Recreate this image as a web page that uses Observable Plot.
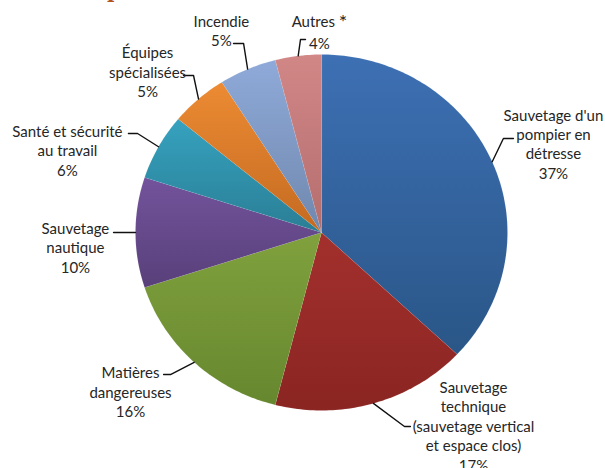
<!DOCTYPE html>
<html><head><meta charset="utf-8">
<script src="https://cdn.jsdelivr.net/npm/d3@7"></script>
<script src="https://cdn.jsdelivr.net/npm/@observablehq/plot@0.6"></script>
<style>
body{margin:0;background:#fff;}
#wrap{position:relative;width:605px;height:468px;overflow:hidden;background:#fff;}
#ttl{position:absolute;left:107px;top:-21px;font-family:"DejaVu Serif",serif;font-weight:bold;font-size:20px;color:#b4531c;line-height:24px;}
#chart{position:absolute;left:0;top:0;}
</style>
</head><body>
<div id="wrap"><div id="chart"></div><div id="ttl">p</div></div>
<script>
// ---- data ----
const categories = ["Sauvetage d'un pompier en détresse","Sauvetage technique (sauvetage vertical et espace clos)","Matières dangereuses","Sauvetage nautique","Santé et sécurité au travail","Équipes spécialisées","Incendie","Autres"];
const labelLines = [["Sauvetage d'un","pompier en","détresse"],["Sauvetage","technique","(sauvetage vertical","et espace clos)"],["Matières","dangereuses"],["Sauvetage","nautique"],["Santé et sécurité","au travail"],["Équipes","spécialisées"],["Incendie"],["Autres *"]];
const values = [37,17,16,10,6,5,5,4];
const pctLabels = ["37%","17%","16%","10%","6%","5%","5%","4%"];
// ---- styles ----
const colorTop = ["#3d70b4","#a3302d","#80a13d","#73539c","#36a2bf","#ec8b33","#8faad9","#d28787"];
const colorBottom = ["#2a5687","#8a2522","#67872f","#58407a","#2a7e95","#c46a21","#7088ae","#b46d6d"];
// ---- layout (pie units: radius = 1) ----
const labelCenter = [[1.247,0.500],[0.817,-1.084],[-1.027,-0.893],[-1.323,-0.081],[-1.366,0.463],[-0.935,0.904],[-0.538,1.135],[-0.011,1.135]];
const leaderAttach = [[1.032,0.528],[0.478,-1.090],[-0.849,-0.798],[-1.118,0],[-1.038,0.556],[-0.742,0.882],[-0.473,1.062],[-0.086,1.084]];
const leaderElbow = [[0.978,0.528],[0.446,-1.090],[-0.812,-0.798],[-1.070,0],[-0.989,0.556],[-0.688,0.882],[-0.419,1.062],[-0.113,1.084]];

const total = d3.sum(values);
let acc = 0;
const slices = values.map((v,i)=>{const a0=acc/total*2*Math.PI; acc+=v; const a1=acc/total*2*Math.PI; return {i,a0,a1,mid:(a0+a1)/2};});
const slicePts = slices.map(s=>{
  const pts=[{x:0,y:0}];
  const n=Math.max(2,Math.ceil((s.a1-s.a0)/(Math.PI/180)));
  for(let k=0;k<=n;k++){const a=s.a0+(s.a1-s.a0)*k/n; pts.push({x:Math.sin(a),y:Math.cos(a)});}
  return pts;
});
const leaders = slices.flatMap(s=>[
  {i:s.i,x:leaderAttach[s.i][0],y:leaderAttach[s.i][1]},
  {i:s.i,x:leaderElbow[s.i][0],y:leaderElbow[s.i][1]},
  {i:s.i,x:Math.sin(s.mid),y:Math.cos(s.mid)}
]);
const labels = slices.map(s=>({x:labelCenter[s.i][0],y:labelCenter[s.i][1],text:[...labelLines[s.i],pctLabels[s.i]].join("\n")}));

const chart = Plot.plot({
  width:605,height:468,
  x:{domain:[-1,1],range:[135,507],axis:null},
  y:{domain:[-1,1],range:[410,54],axis:null},
  style:{fontFamily:"Lato, sans-serif",fontSize:"15px",background:"#fff",overflow:"visible"},
  marks:[
    ...slicePts.map((pts,i)=>Plot.line(pts,{x:"x",y:"y",curve:"linear-closed",fill:`url(#g${i})`,stroke:"#ffffff",strokeOpacity:0.15,strokeWidth:0.5})),
    Plot.line(leaders,{x:"x",y:"y",z:"i",stroke:"#111",strokeWidth:1.4}),
    Plot.text(labels,{x:"x",y:"y",text:"text",lineHeight:1.3,fontSize:15,fill:"#262626",textAnchor:"middle"})
  ]
});
const defs = d3.select(chart).insert("defs",":first-child");
colorTop.forEach((c,i)=>{
  const g=defs.append("linearGradient").attr("id",`g${i}`).attr("x1",0).attr("y1",0).attr("x2",0).attr("y2",1);
  g.append("stop").attr("offset","0%").attr("stop-color",c);
  g.append("stop").attr("offset","100%").attr("stop-color",colorBottom[i]);
});
// enlarge the asterisk after "Autres"
d3.select(chart).selectAll("tspan").each(function(){
  const t=d3.select(this);
  if(t.text()==="Autres *"){
    t.text("Autres ");
    t.append("tspan").attr("font-size",20).attr("dy","0.12em").text("*");
  }
});
document.getElementById("chart").appendChild(chart);
</script>
</body></html>
